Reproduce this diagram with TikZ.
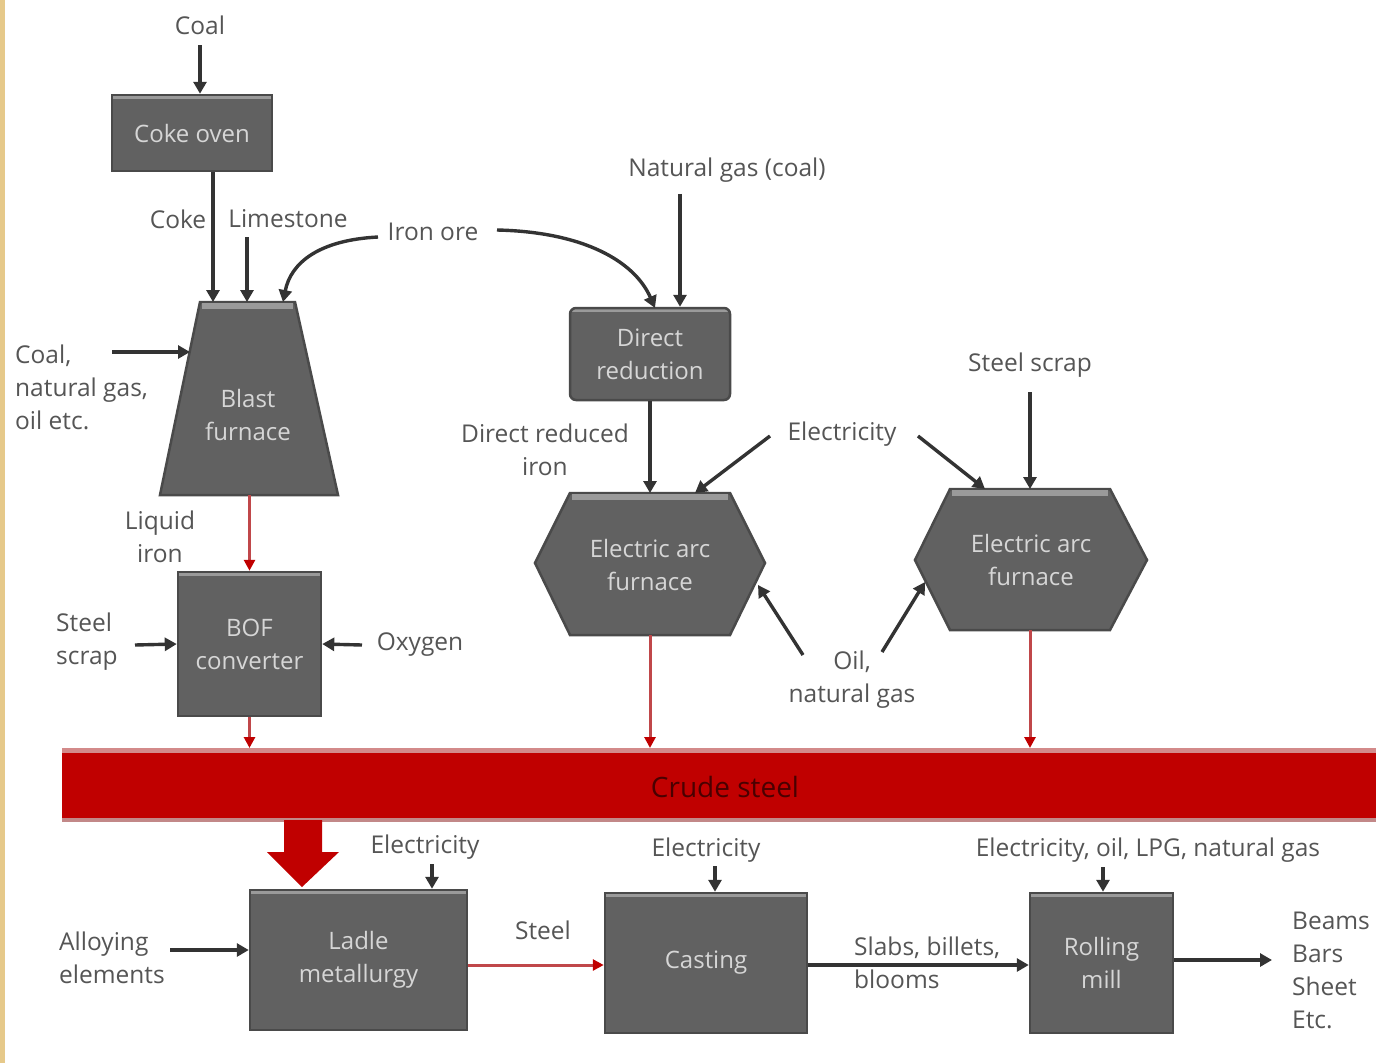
\documentclass[tikz,border=0pt]{standalone}
\usepackage{fontspec}
\setmainfont{Open Sans}
\usetikzlibrary{arrows.meta}
\definecolor{boxfill}{HTML}{616161}
\definecolor{boxedge}{HTML}{4A4A4A}
\definecolor{boxtop}{HTML}{9A9A9A}
\definecolor{boxtxt}{HTML}{D6D6D6}
\definecolor{lbltxt}{HTML}{555555}
\definecolor{arrcol}{HTML}{333333}
\definecolor{redline}{HTML}{C0474A}
\definecolor{crude}{HTML}{C00000}
\definecolor{crudetop}{HTML}{D38A8A}
\definecolor{crudetxt}{HTML}{4A0000}
\definecolor{strip}{HTML}{E6C98A}
\tikzset{
  lbl/.style={text=lbltxt, font=\fontsize{24.5}{33}\selectfont, inner sep=1pt},
  btxt/.style={text=boxtxt, font=\fontsize{24}{33}\selectfont, align=center, inner sep=0pt},
  pbox/.style={draw=boxedge, line width=2.5pt, fill=boxfill, text=boxtxt,
     font=\fontsize{24}{33}\selectfont, align=center, inner sep=0pt,
     path picture={\draw[boxtop,line width=8pt] (path picture bounding box.north west) -- (path picture bounding box.north east);}},
  arr/.style={draw=arrcol, line width=3.4pt, -{Triangle[length=12pt,width=13pt]}},
  rarr/.style={draw=redline, line width=3pt, -{Triangle[length=11pt,width=11pt,color=crude]}},
}
\begin{document}
\begin{tikzpicture}[x=1pt,y=-1pt]
\useasboundingbox (0,0) rectangle (1376,1063);
\fill[white] (0,0) rectangle (1376,1063);
\fill[strip] (0,0) rectangle (5,1063);

% ---- rectangular boxes
\node[pbox, minimum width=160pt, minimum height=76pt] (coke) at (192,133) {Coke oven};
\node[pbox, minimum width=143pt, minimum height=144pt] (bof) at (249.5,644) {BOF\\converter};
\node[pbox, minimum width=160pt, minimum height=92pt, rounded corners=6pt] (dr) at (650,354) {Direct\\reduction};
\node[pbox, minimum width=217pt, minimum height=140pt] (ladle) at (358.5,960) {Ladle\\metallurgy};
\node[pbox, minimum width=202pt, minimum height=140pt] (cast) at (706,963) {Casting};
\node[pbox, minimum width=143pt, minimum height=140pt] (roll) at (1101.5,963) {Rolling\\mill};

% ---- blast furnace (trapezoid)
\filldraw[draw=boxedge, line width=2.5pt, fill=boxfill] (200,302) -- (295,302) -- (338,495) -- (160,495) -- cycle;
\draw[boxtop, line width=6pt] (202,306) -- (293,306);
\node[btxt] (bf) at (248,415) {Blast\\furnace};
\coordinate (bfcoke) at (213,302);
\coordinate (bflime) at (247,302);
\coordinate (bfore) at (283,302);
\coordinate (bfleft) at (190,352);
\coordinate (bfbot) at (249.5,495);

% ---- electric arc furnaces (hexagons)
\filldraw[draw=boxedge, line width=2.5pt, fill=boxfill] (570,493) -- (730,493) -- (765,563) -- (730,635) -- (570,635) -- (535,563) -- cycle;
\draw[boxtop, line width=6pt] (572,497) -- (728,497);
\node[btxt] (eaf1) at (650,565) {Electric arc\\furnace};
\filldraw[draw=boxedge, line width=2.5pt, fill=boxfill] (950,489) -- (1110,489) -- (1147,560) -- (1110,630) -- (950,630) -- (915,560) -- cycle;
\draw[boxtop, line width=6pt] (952,493) -- (1108,493);
\node[btxt] (eaf2) at (1031,560) {Electric arc\\furnace};
\coordinate (e1top) at (650,493);
\coordinate (e1el) at (695,493);
\coordinate (e1oil) at (758,585);
\coordinate (e1bot) at (650,635);
\coordinate (e2top) at (1030,489);
\coordinate (e2el) at (985,489);
\coordinate (e2oil) at (925,582);
\coordinate (e2bot) at (1030,630);

% ---- crude steel bar
\fill[crude] (62,748) rectangle (1376,822);
\fill[crudetop] (62,748) rectangle (1376,753);
\fill[crudetop!80!gray] (62,818) rectangle (1376,822);
\node[text=crudetxt, font=\fontsize{28}{32}\selectfont] (crude) at (725,787) {Crude steel};
\coordinate (cbof) at (249.5,748);
\coordinate (ce1) at (650,748);
\coordinate (ce2) at (1030,748);
\fill[crude] (284,820) -- (322,820) -- (322,852) -- (339,852) -- (302,887) -- (267,852) -- (284,852) -- cycle;

% ---- labels
\node[lbl] (coal) at (200,25) {Coal};
\node[lbl] (cokel) at (178,219) {Coke};
\node[lbl] (lime) at (288,219) {Limestone};
\node[lbl] (ore) at (433,232) {Iron ore};
\node[lbl, align=left, anchor=west] (fuel) at (14,387) {Coal,\\natural gas,\\oil etc.};
\node[lbl] (ng) at (727,170) {Natural gas (coal)};
\node[lbl, align=center] (dri) at (545,450) {Direct reduced\\iron};
\node[lbl] (el1) at (842,434) {Electricity};
\node[lbl] (scrap2) at (1030,365) {Steel scrap};
\node[lbl, align=center] (liq) at (160,537) {Liquid\\iron};
\node[lbl, align=left, anchor=west] (scrap1) at (55,642) {Steel\\scrap};
\node[lbl] (oxy) at (420,645) {Oxygen};
\node[lbl, align=center] (oil) at (852,680) {Oil,\\natural gas};
\node[lbl] (el2) at (425,847) {Electricity};
\node[lbl] (el3) at (706,850) {Electricity};
\node[lbl] (el4) at (1148,850) {Electricity, oil, LPG, natural gas};
\node[lbl, align=left, anchor=west] (alloy) at (58,958) {Alloying\\elements};
\node[lbl] (steel) at (543,930) {Steel};
\node[lbl, align=left, anchor=west] (slabs) at (853,963) {Slabs, billets,\\blooms};
\node[lbl, align=left, anchor=west] (prod) at (1291,970) {Beams\\Bars\\Sheet\\Etc.};

% ---- connectors
\draw[arr] (coal.south |- 0,45) -- (coke.north -| coal.south);
\draw[arr] (bfcoke |- coke.south) -- (bfcoke);
\draw[arr] (bflime |- 0,237) -- (bflime);
\draw[arr] (378,237) .. controls (320,240) and (291,262) .. (bfore);
\draw[arr] (497,230) .. controls (585,232) and (635,262) .. (655,308);
\draw[arr] (dr.north -| 680,0) ++(0,-113) -- (dr.north -| 680,0);
\draw[arr] (112,352) -- (bfleft);
\draw[rarr] (bfbot) -- (bof.north);
\draw[arr] (135,645) -- (bof.west);
\draw[arr] (362,645) -- (bof.east);
\draw[rarr] (bof.south) -- (cbof);
\draw[arr] (dr.south) -- (e1top);
\draw[arr] (770,436) -- (e1el);
\draw[arr] (918,436) -- (e2el);
\draw[arr] (scrap2.south |- 0,392) -- (e2top);
\draw[arr] (803,655) -- (e1oil);
\draw[arr] (882,652) -- (e2oil);
\draw[rarr] (e1bot) -- (ce1);
\draw[rarr] (e2bot) -- (ce2);
\draw[arr] (432,864) -- (ladle.north -| 432,0);
\draw[arr] (715,866) -- (cast.north -| 715,0);
\draw[arr] (1103,867) -- (roll.north -| 1103,0);
\draw[arr] (170,950) -- (ladle.west |- 0,950);
\draw[rarr] (ladle.east |- 0,965) -- (cast.west |- 0,965);
\draw[arr] (cast.east |- 0,965) -- (roll.west |- 0,965);
\draw[arr] (roll.east |- 0,960) -- (1272,960);
\end{tikzpicture}
\end{document}
